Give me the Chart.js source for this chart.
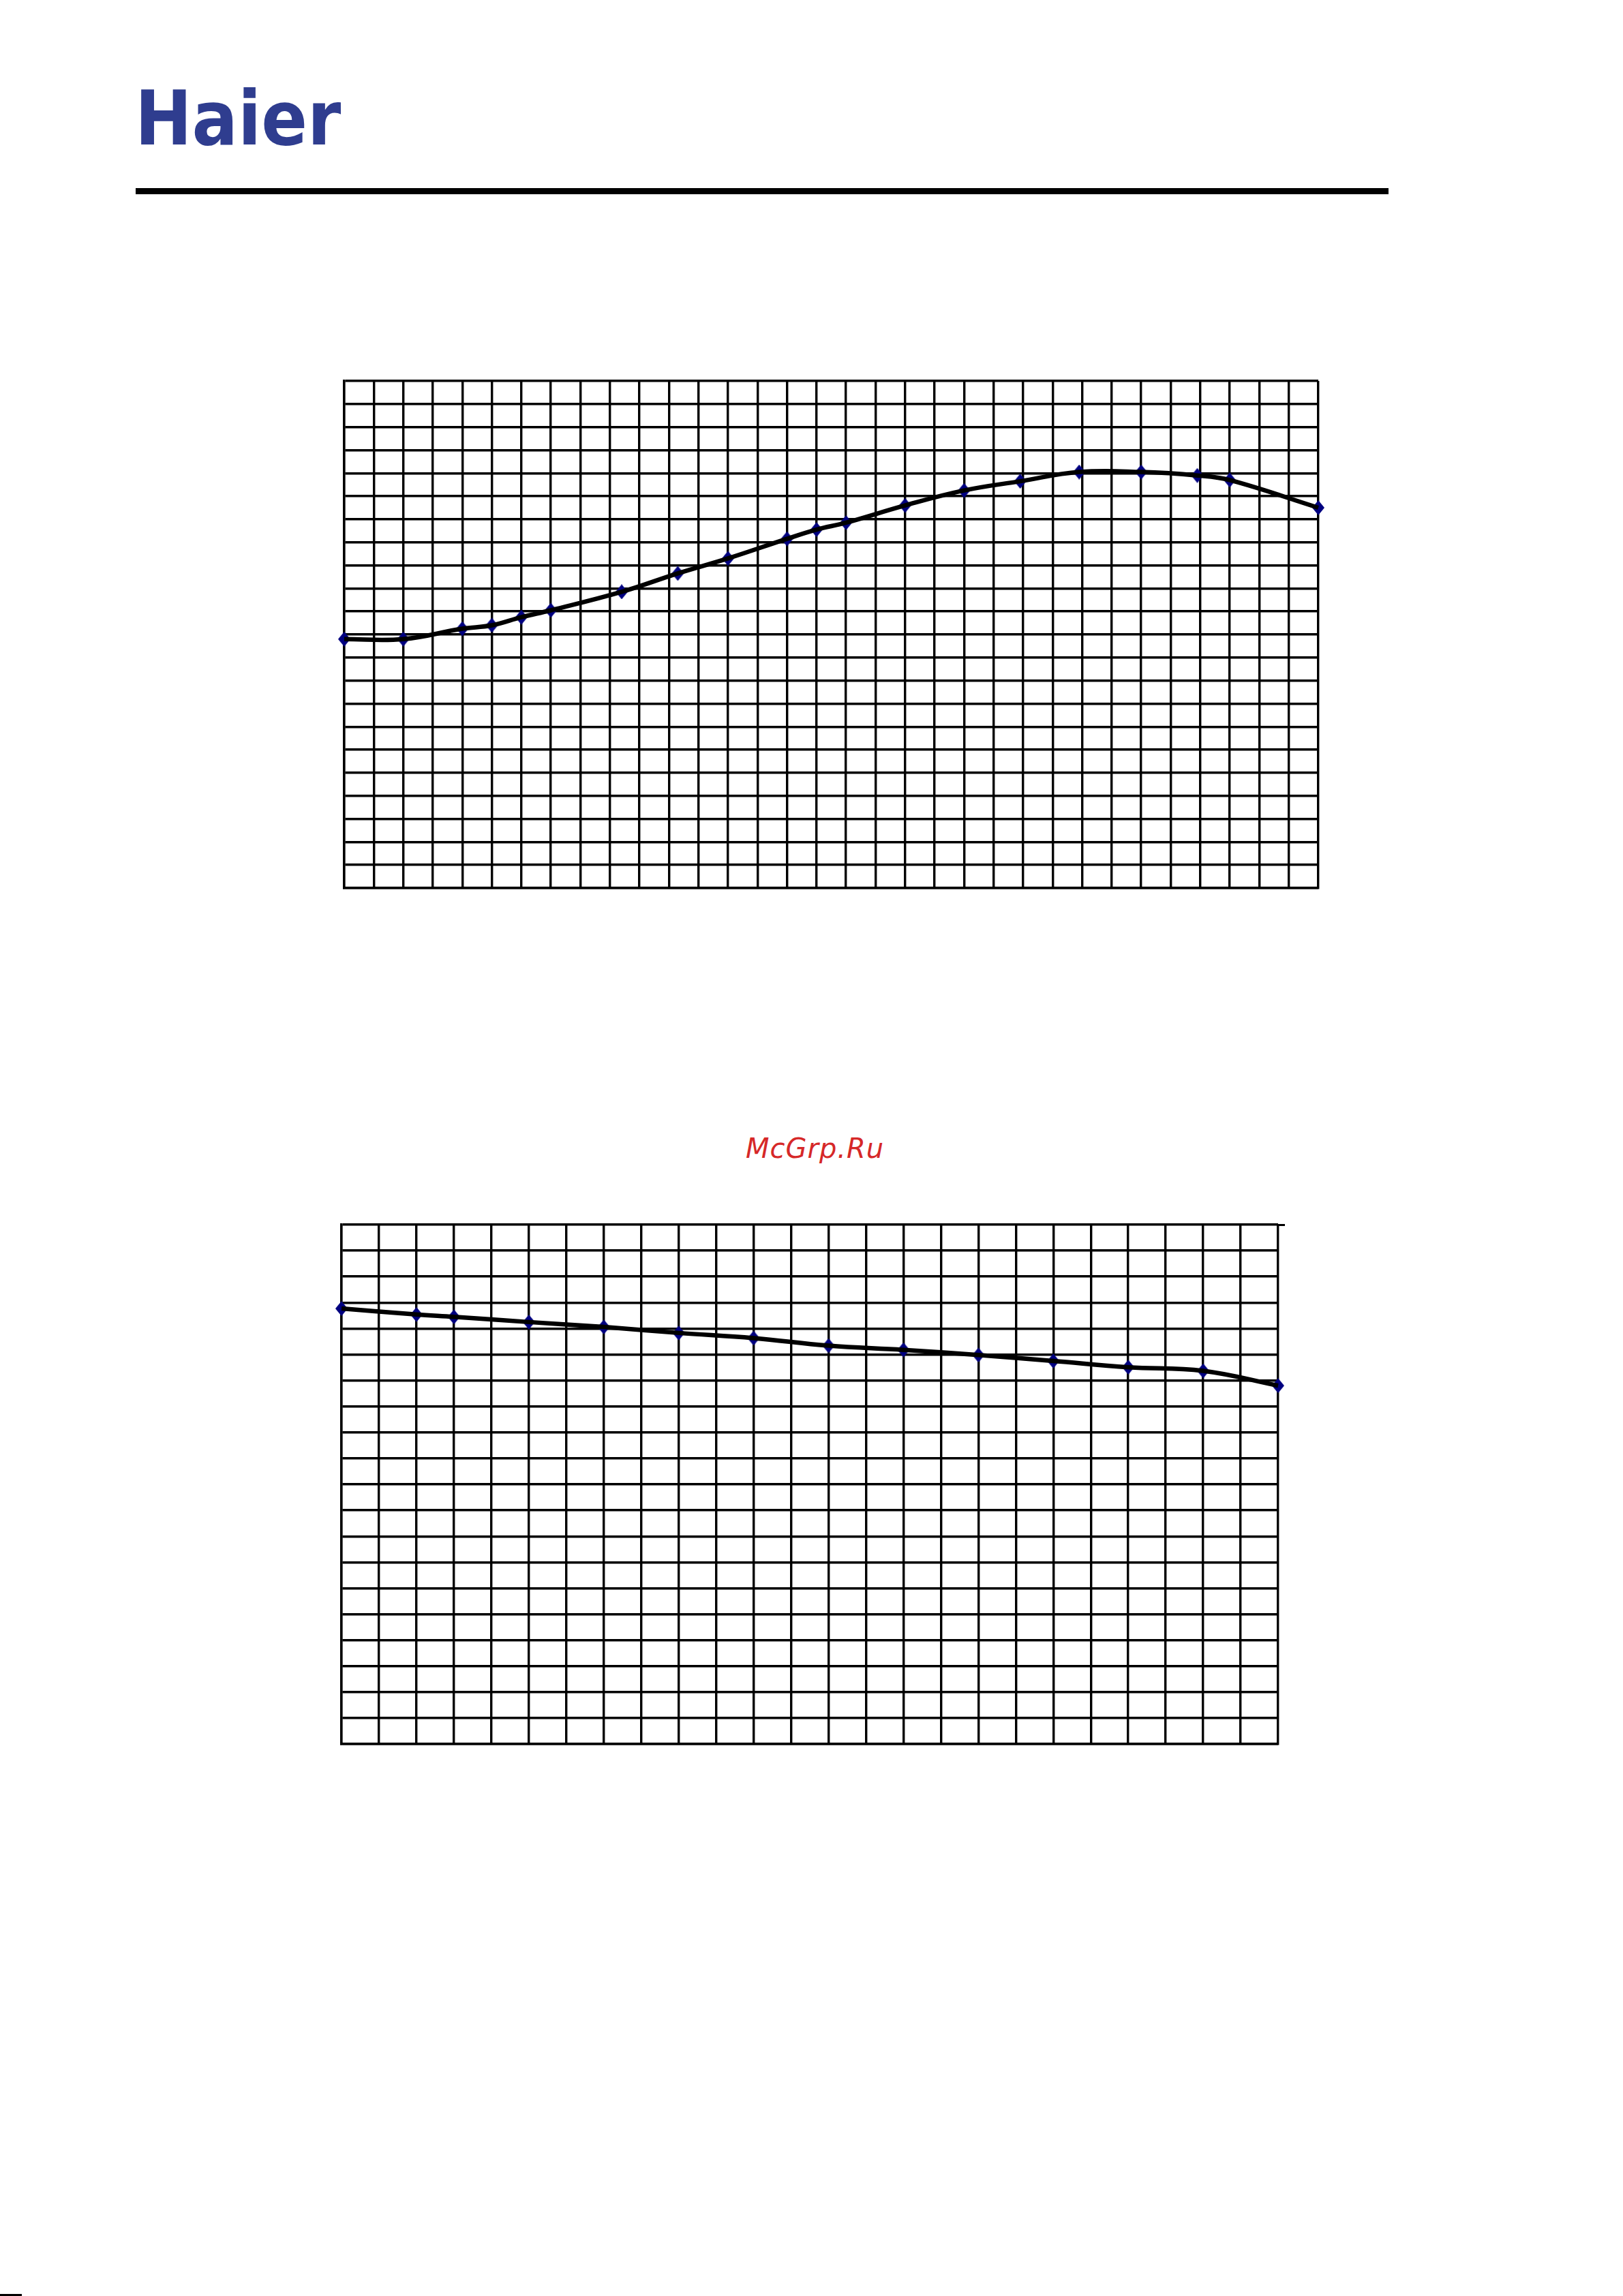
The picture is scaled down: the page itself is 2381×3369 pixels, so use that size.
<!DOCTYPE html>
<html>
<head>
<meta charset="utf-8">
<script src="https://cdn.jsdelivr.net/npm/chart.js@4/dist/chart.umd.min.js"></script>
<style>
html,body{margin:0;padding:0;background:#fff;}
body{width:2381px;height:3369px;position:relative;overflow:hidden;}
#logo{position:absolute;left:198px;top:118px;font-family:"DejaVu Sans",sans-serif;font-weight:bold;font-size:111px;line-height:1;color:#2F3D8F;white-space:nowrap;transform:scaleX(0.9);transform-origin:0 0;}
#rule{position:absolute;left:199px;top:276px;width:1838px;height:9px;background:#000;}
#wm{position:absolute;left:1094px;top:1665px;font-family:"DejaVu Sans",sans-serif;font-style:oblique;font-size:40px;line-height:1;color:#D62828;white-space:nowrap;letter-spacing:1px;}
.cv{position:absolute;}
#mk1{position:absolute;left:0;top:3366px;width:32px;height:3px;background:#000;}
#ext{position:absolute;left:1874px;top:1796px;width:11px;height:3px;background:#000;}
</style>
</head>
<body>
<div id="logo">Haier</div>
<div id="rule"></div>
<div id="wm">McGrp.Ru</div>
<div id="mk1"></div>
<canvas id="c1" class="cv"></canvas>
<canvas id="c2" class="cv"></canvas>
<div id="ext"></div>
<script>
// ---- data (grid units) ----
const topX = [0, 2, 4, 5, 6, 7, 9.4, 11.3, 13, 15, 16, 17, 19, 21, 22.9, 24.9, 27, 28.9, 30, 33];
const topY = [10.8, 10.8, 11.25, 11.4, 11.75, 12.05, 12.85, 13.65, 14.3, 15.15, 15.55, 15.85, 16.6, 17.25, 17.65, 18.05, 18.05, 17.9, 17.7, 16.5];
const topXRange = [0, 33];
const topYRange = [0, 22];

const botX = [0, 2, 3, 5, 7, 9, 11, 13, 15, 17, 19, 21, 23, 25];
const botY = [16.77, 16.54, 16.45, 16.25, 16.06, 15.83, 15.63, 15.34, 15.18, 14.98, 14.75, 14.51, 14.37, 13.8];
const botXRange = [0, 25];
const botYRange = [0, 20];

function diamond(w, h, color) {
  const c = document.createElement('canvas');
  c.width = w; c.height = h;
  const g = c.getContext('2d');
  g.fillStyle = color;
  g.beginPath();
  g.moveTo(w / 2, 0); g.lineTo(w, h / 2); g.lineTo(w / 2, h); g.lineTo(0, h / 2);
  g.closePath(); g.fill();
  return c;
}
const marker = diamond(18, 22, '#000080');

function makeChart(id, box, xs, ys, xr, yr) {
  const pad = 16;
  const cv = document.getElementById(id);
  cv.width = box.w + 2 * pad;
  cv.height = box.h + 2 * pad;
  cv.style.left = (box.x - pad) + 'px';
  cv.style.top = (box.y - pad) + 'px';
  cv.style.width = cv.width + 'px';
  cv.style.height = cv.height + 'px';
  const pts = xs.map((x, i) => ({x: x, y: ys[i]}));
  const axis = (r) => ({
    type: 'linear', min: r[0], max: r[1],
    ticks: {display: false, stepSize: 1},
    grid: {display: true, color: '#000', lineWidth: 3.4, drawTicks: false},
    border: {display: true, color: '#000', width: 3.4}
  });
  return new Chart(cv, {
    type: 'scatter',
    data: {
      datasets: [
        {data: pts, showLine: true, borderColor: '#000', borderWidth: 6.5, tension: 0.4,
         pointRadius: 0, pointHoverRadius: 0, clip: false, order: 0},
        {data: pts, showLine: false, pointStyle: marker, pointRadius: 10,
         clip: false, order: 1}
      ]
    },
    options: {
      responsive: false, animation: false, devicePixelRatio: 1,
      layout: {padding: pad},
      plugins: {legend: {display: false}, tooltip: {enabled: false}},
      events: [],
      scales: {x: axis(xr), y: axis(yr)}
    }
  });
}

makeChart('c1', {x: 505, y: 559, w: 1429, h: 744}, topX, topY, topXRange, topYRange);
makeChart('c2', {x: 501, y: 1797, w: 1374, h: 762}, botX, botY, botXRange, botYRange);
</script>
</body>
</html>
